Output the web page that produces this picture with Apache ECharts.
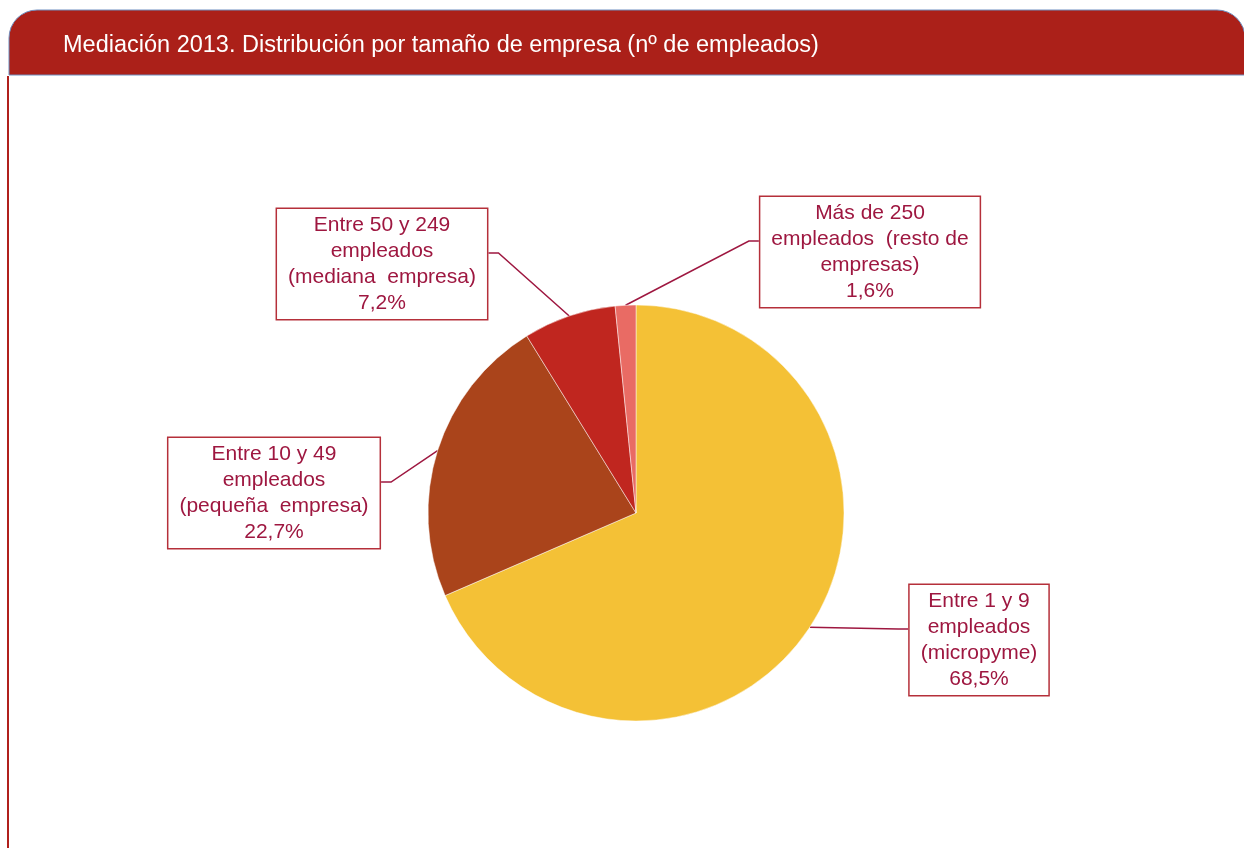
<!DOCTYPE html>
<html>
<head>
<meta charset="utf-8">
<script src="https://cdn.jsdelivr.net/npm/echarts@6/dist/echarts.min.js"></script>
<style>
  html, body { margin:0; padding:0; background:#fff; }
  #chart { width:1244px; height:848px; }
</style>
</head>
<body>
<div id="chart"></div>
<script>
const TITLE = "Mediación 2013. Distribución por tamaño de empresa (nº de empleados)";

// slices, clockwise from 12 o'clock
const categories = [
  "Entre 1 y 9\nempleados\n(micropyme)",
  "Entre 10 y 49\nempleados\n(pequeña  empresa)",
  "Entre 50 y 249\nempleados\n(mediana  empresa)",
  "Más de 250\nempleados  (resto de\nempresas)"
];
const values = [68.5, 22.7, 7.2, 1.6];
const colors = ["#F4C136", "#AA441B", "#C0261F", "#E96B64"];

// where each label box sits (center of the box)
const labelSpots = [[979, 640], [274, 493], [382, 264], [870, 252]];

const TEXT_RED = "#9E1740";
const BOX_RED = "#B5303A";
const CX = 636, CY = 513, R = 208;

function fmtPct(v){
  return v.toFixed(1).replace(".", ",") + "%";
}

// mid angle of each slice (clockwise from top), for the leader start
const total = values.reduce((a, b) => a + b, 0);
const midAngles = [];
let acc = 0;
values.forEach(v => { midAngles.push((acc + v / 2) / total * 2 * Math.PI); acc += v; });

const chart = echarts.init(document.getElementById("chart"));

chart.setOption({
  animation: false,
  backgroundColor: "#fff",
  title: {
    text: TITLE,
    left: 58,
    top: 29,
    textStyle: { color:"#fff", fontSize:23.5, fontWeight:"normal", fontFamily:"Liberation Sans, Arial, sans-serif" }
  },
  graphic: [
    {
      type: "rect",
      z: -1,
      shape: { x: 9, y: 10, width: 1236, height: 65, r: [28, 28, 0, 0] },
      style: { fill: "#AB2019", stroke: "#6F8FC0", lineWidth: 1 }
    },
    {
      type: "line",
      shape: { x1: 8, y1: 76, x2: 8, y2: 848 },
      style: { stroke: "#B0201C", lineWidth: 2 }
    }
  ],
  series: [{
    type: "pie",
    center: [CX, CY],
    radius: R,
    startAngle: 90,
    clockwise: true,
    itemStyle: { borderColor: "rgba(255,255,255,0.6)", borderWidth: 0.8 },
    label: {
      show: true,
      formatter: p => p.name + "\n" + fmtPct(p.value),
      color: TEXT_RED,
      fontSize: 21,
      lineHeight: 26,
      fontFamily: "Liberation Sans, Arial, sans-serif",
      align: "center",
      backgroundColor: "#fff",
      borderColor: BOX_RED,
      borderWidth: 1.5,
      padding: [5, 11, 1, 11]
    },
    labelLine: { show: true, lineStyle: { color: TEXT_RED, width: 1.5 } },
    labelLayout: p => {
      const i = p.dataIndex;
      const s = labelSpots[i];
      const w = p.labelRect.width;
      const a = midAngles[i];
      const start = [CX + R * Math.sin(a), CY - R * Math.cos(a)];
      const right = s[0] > CX;
      const ex = right ? s[0] - w / 2 : s[0] + w / 2;
      const ey = s[1] - 11;
      const elbow = [right ? ex - 10 : ex + 10, ey];
      return {
        x: s[0], y: s[1], align: "center", verticalAlign: "middle",
        labelLinePoints: [start, elbow, [ex, ey]]
      };
    },
    emphasis: { disabled: true },
    data: categories.map((c, i) => ({ name: c, value: values[i], itemStyle: { color: colors[i] } }))
  }]
});
</script>
</body>
</html>
